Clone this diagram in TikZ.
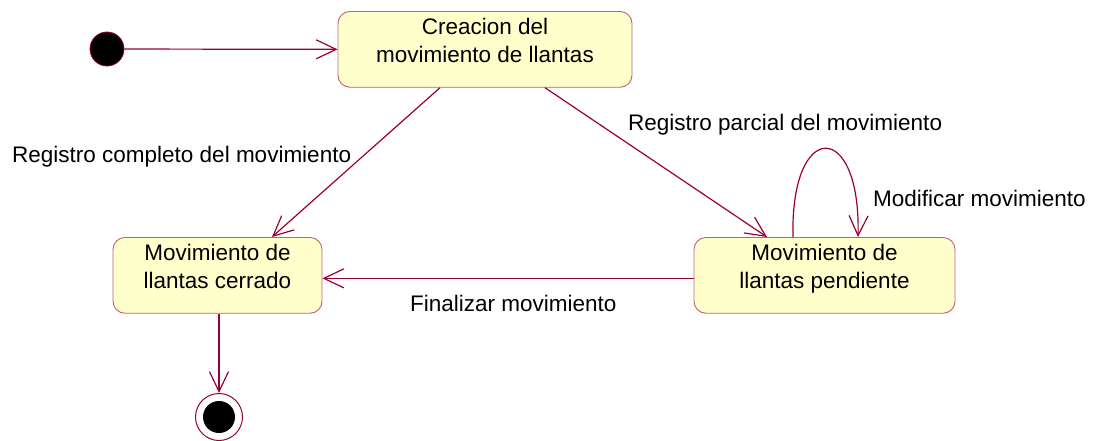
\documentclass[tikz,border=0pt]{standalone}
\usepackage{fontspec}
\setmainfont{Liberation Sans}
\usetikzlibrary{arrows.meta,positioning}
\definecolor{umlEdge}{HTML}{990033}
\definecolor{umlBorder}{HTML}{C0607A}
\definecolor{umlFill}{HTML}{FFFFCC}

\begin{document}
\begin{tikzpicture}[x=1pt,y=-1pt,
    font=\fontsize{22.5}{27.5}\selectfont,
    state/.style={draw=umlBorder,fill=umlFill,line width=0.9pt,rounded corners=12pt,
                  align=center,anchor=north,inner xsep=0pt,inner ysep=7pt,text depth=18pt},
    initst/.style={circle,fill=black,draw=umlEdge,line width=0.8pt,minimum size=34pt,inner sep=0pt},
    finalst/.style={circle,draw=umlEdge,line width=1pt,minimum size=47pt,inner sep=0pt,
                    path picture={\fill[black] (path picture bounding box.center) circle (16pt);}},
    trans/.style={draw=umlEdge,line width=1.2pt,-{Straight Barb[length=20pt,width=19pt]}},
    lbl/.style={anchor=base west,inner sep=0pt}]
  \useasboundingbox (0,0) rectangle (1098,440);
  % states
  \node[initst] (init) at (107,49) {};
  \node[state,minimum width=294pt] (crea) at (485,11) {Creacion del\\movimiento de llantas};
  \node[state,minimum width=209pt] (cerr) at (217.5,237) {Movimiento de\\llantas cerrado};
  \node[state,minimum width=261pt] (pend) at (824.5,237) {Movimiento de\\llantas pendiente};
  \node[finalst] (fin) at (219,417) {};
  % transitions
  \draw[trans] (init) -- (crea.west);
  \draw[trans] ([xshift=-45pt]crea.south) -- ([xshift=54.5pt]cerr.north);
  \draw[trans] ([xshift=60pt]crea.south) -- ([xshift=-57.5pt]pend.north);
  \draw[trans] ([xshift=-31.5pt]pend.north) .. controls +(-3,-118) and +(3,-118) .. ([xshift=33.5pt]pend.north);
  \draw[trans] ([yshift=-3pt]pend.west) -- ([yshift=-3pt]cerr.east);
  \draw[trans] (fin |- cerr.south) -- (fin.north);
  % labels
  \node[lbl] (lblcompleto) at (12,162) {Registro completo del movimiento};
  \node[lbl] (lblparcial) at (628,130) {Registro parcial del movimiento};
  \node[lbl] (lblmodificar) at (873,206) {Modificar movimiento};
  \node[lbl] (lblfinalizar) at (410,311) {Finalizar movimiento};
\end{tikzpicture}
\end{document}
